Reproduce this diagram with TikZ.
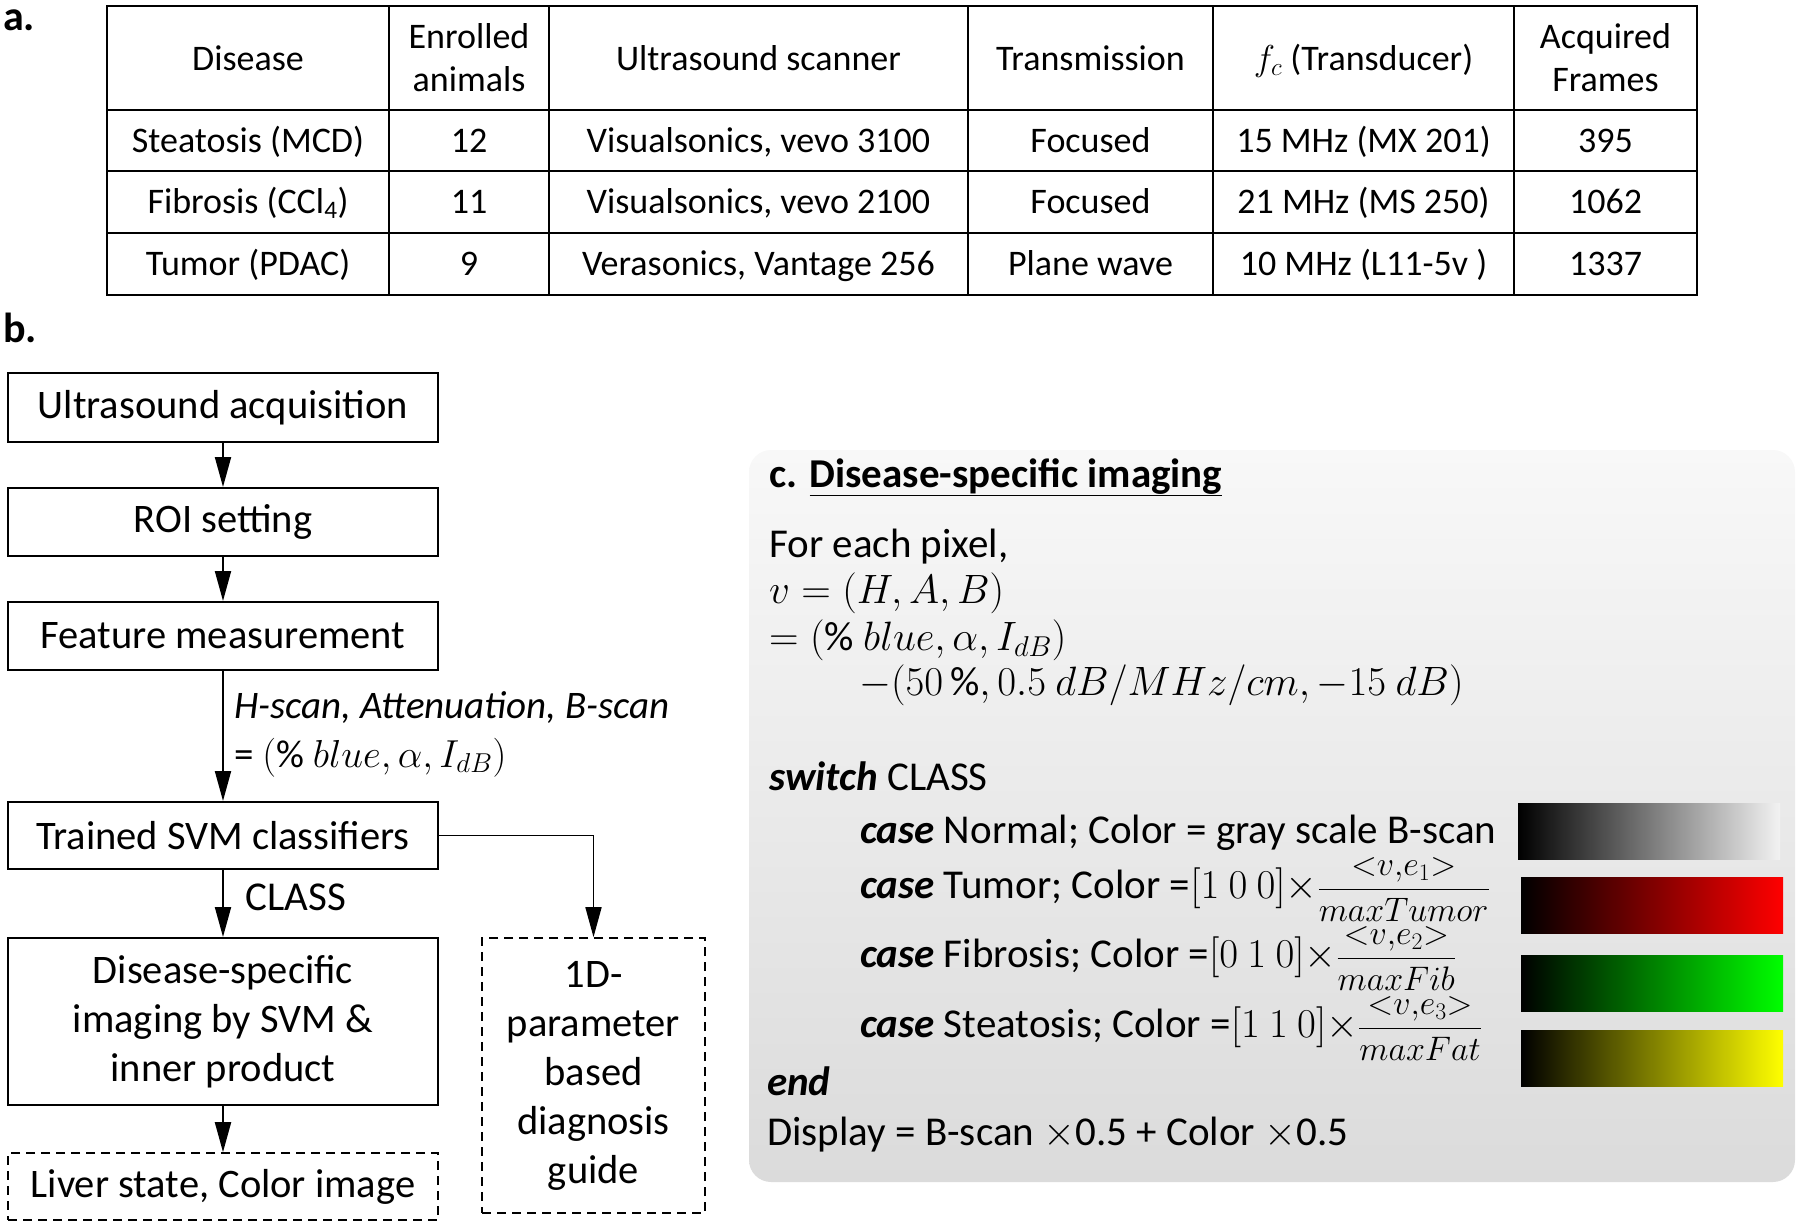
\RequirePackage{fix-cm}
\documentclass[tikz,border=0pt]{standalone}
\usepackage{fontspec}
\setmainfont{Carlito}
\usetikzlibrary{arrows.meta}
\definecolor{panelTop}{HTML}{F8F8F8}
\definecolor{panelBot}{HTML}{DBDBDB}
\newcommand{\fracfont}{\fontsize{34}{40}\selectfont}
\begin{document}
\begin{tikzpicture}[x=1pt,y=-1pt,
  tline/.style={line width=2.5pt},
  tcell/.style={anchor=base, font=\fontsize{36}{42}\selectfont, align=center, inner sep=0pt},
  fbox/.style={draw, line width=2pt, minimum width=430pt, inner sep=0pt, align=center, font=\fontsize{40.5}{49}\selectfont},
  dbox/.style={fbox, line width=1.6pt, dash pattern=on 9pt off 6pt},
  arr/.style={line width=2pt, -{Triangle[length=30pt,width=16pt]}},
  arrthin/.style={line width=1.6pt, -{Triangle[length=30pt,width=16pt]}},
  ctext/.style={anchor=base west, inner sep=0pt, font=\fontsize{41}{46}\selectfont},
  lbl/.style={anchor=base west, inner sep=0pt, font=\bfseries\fontsize{42}{46}\selectfont},
  bar/.style={minimum width=262pt, minimum height=56pt, inner sep=0pt},
]
\useasboundingbox (0,0) rectangle (1800,1226);

% ---------- panel a ----------
\node[lbl] (la) at (3,30) {a.};
\draw[tline] (107,6) rectangle (1697,295);
\foreach \x in {389,549,968,1213,1514} \draw[tline] (\x,6) -- (\x,295);
\foreach \y in {110,171,233} \draw[tline] (107,\y) -- (1697,\y);

\node[tcell] (h1) at (248,70) {Disease};
\node[tcell] (h2a) at (469,48) {Enrolled};
\node[tcell] (h2b) at (469,91) {animals};
\node[tcell] (h3) at (758.5,70) {Ultrasound scanner};
\node[tcell] (h4) at (1090.5,70) {Transmission};
\node[tcell] (h5) at (1363.5,70) {$f_c$ (Transducer)};
\node[tcell] (h6a) at (1605.5,48) {Acquired};
\node[tcell] (h6b) at (1605.5,91) {Frames};

\node[tcell] (r11) at (248,152) {Steatosis (MCD)};
\node[tcell] (r12) at (469,152) {12};
\node[tcell] (r13) at (758.5,152) {Visualsonics, vevo 3100};
\node[tcell] (r14) at (1090.5,152) {Focused};
\node[tcell] (r15) at (1363.5,152) {15 MHz (MX 201)};
\node[tcell] (r16) at (1605.5,152) {395};

\node[tcell] (r21) at (248,213.5) {Fibrosis (CCl\textsubscript{4})};
\node[tcell] (r22) at (469,213.5) {11};
\node[tcell] (r23) at (758.5,213.5) {Visualsonics, vevo 2100};
\node[tcell] (r24) at (1090.5,213.5) {Focused};
\node[tcell] (r25) at (1363.5,213.5) {21 MHz (MS 250)};
\node[tcell] (r26) at (1605.5,213.5) {1062};

\node[tcell] (r31) at (248,275.5) {Tumor (PDAC)};
\node[tcell] (r32) at (469,275.5) {9};
\node[tcell] (r33) at (758.5,275.5) {Verasonics, Vantage 256};
\node[tcell] (r34) at (1090.5,275.5) {Plane wave};
\node[tcell] (r35) at (1363.5,275.5) {10 MHz (L11-5v )};
\node[tcell] (r36) at (1605.5,275.5) {1337};

% ---------- panel b ----------
\node[lbl] (lb) at (3,342) {b.};
\node[fbox, minimum height=69pt] (b1) at (223,407.5) {Ultrasound acquisition};
\node[fbox, minimum height=68pt] (b2) at (223,522) {ROI setting};
\node[fbox, minimum height=68pt] (b3) at (223,636) {Feature measurement};
\node[fbox, minimum height=67pt] (b4) at (223,835.5) {Trained SVM classifiers};
\node[fbox, minimum height=167pt] (b5) at (223,1021.5) {Disease-specific\\imaging by SVM \&\\inner product};
\node[dbox, minimum height=67pt] (b6) at (223,1186.5) {Liver state, Color image};
\node[dbox, minimum width=223pt, minimum height=275pt] (b7) at (593.5,1075.5) {1D-\\parameter\\based\\diagnosis\\guide};

\draw[arr] (b1.south) -- (b2.north);
\draw[arr] (b2.south) -- (b3.north);
\draw[arr] (b3.south) -- (b4.north);
\draw[arr] (b4.south) -- (b5.north);
\draw[arr] (b5.south) -- (b6.north);
\draw[arrthin] (b4.east) -| (b7.north);

\node[ctext, font=\itshape\fontsize{39}{46}\selectfont] (f1) at (234,718) {H-scan, Attenuation, B-scan};
\node[ctext, font=\fontsize{39}{46}\selectfont] (f2) at (234,767) {= $(\%\ blue,\alpha,I_{dB})$};
\node[ctext, anchor=base] (cls) at (296,910) {CLASS};

% ---------- panel c ----------
\node[rounded corners=22pt, top color=panelTop, bottom color=panelBot, minimum width=1046pt, minimum height=732pt, inner sep=0pt] (pc) at (1272,816) {};

\node[ctext, font=\bfseries\fontsize{41}{46}\selectfont] (ct) at (769,487) {c. \underline{Disease-specific imaging}};
\node[ctext] (c1) at (769,557) {For each pixel,};
\node[ctext] (c2) at (769,603) {$v=(H,A,B)$};
\node[ctext] (c3) at (769,650) {$=(\%\ blue,\alpha,I_{dB})$};
\node[ctext] (c4) at (859,695) {$-(50\,\%,0.5\ dB/MHz/cm,-15\ dB)$};
\node[ctext] (c5) at (769,790) {\textbf{\textit{switch}} CLASS};
\node[ctext] (c6) at (860,843) {\textbf{\textit{case}} Normal; Color = gray scale B-scan};
\node[ctext] (c7) at (860,898) {\textbf{\textit{case}} Tumor; Color =$[1\ 0\ 0]{\times}$\fracfont$\displaystyle\frac{{<}v{,}e_1{>}}{maxTumor}$};
\node[ctext] (c8) at (860,967) {\textbf{\textit{case}} Fibrosis; Color =$[0\ 1\ 0]{\times}$\fracfont$\displaystyle\frac{{<}v{,}e_2{>}}{maxFib}$};
\node[ctext] (c9) at (860,1037) {\textbf{\textit{case}} Steatosis; Color =$[1\ 1\ 0]{\times}$\fracfont$\displaystyle\frac{{<}v{,}e_3{>}}{maxFat}$};
\node[ctext] (c10) at (767,1095) {\textbf{\textit{end}}};
\node[ctext] (c11) at (767,1145) {Display = B-scan $\times$0.5 + Color $\times$0.5};

\node[bar, left color=black, right color=white!95!black] (gbar) at (1649,831) {};
\node[bar, left color=black, right color=red] (rbar) at (1652,905) {};
\node[bar, left color=black, right color={rgb,255:red,0;green,255;blue,0}] (grbar) at (1652,983.5) {};
\node[bar, left color=black, right color=yellow] (ybar) at (1652,1058) {};
\end{tikzpicture}
\end{document}
